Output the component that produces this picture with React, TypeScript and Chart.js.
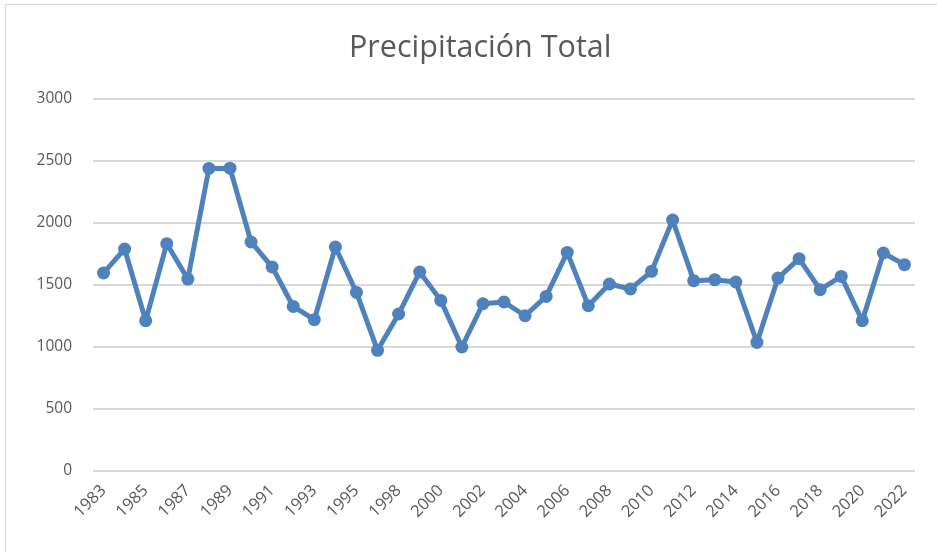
import React, { useEffect, useRef } from "react";
import { Chart, registerables } from "chart.js";

Chart.register(...registerables);

const years: string[] = [
  "1983", "1984", "1985", "1986", "1987", "1988", "1989", "1990", "1991", "1992",
  "1993", "1994", "1995", "1997", "1998", "1999", "2000", "2001", "2002", "2003",
  "2004", "2005", "2006", "2007", "2008", "2009", "2010", "2011", "2012", "2013",
  "2014", "2015", "2016", "2017", "2018", "2019", "2020", "2021", "2022",
];

const precipitation: number[] = [
  1597, 1790, 1212, 1833, 1548, 2440, 2442, 1847, 1645, 1327,
  1220, 1806, 1440, 973, 1266, 1605, 1376, 1000, 1349, 1363,
  1252, 1408, 1763, 1333, 1508, 1468, 1610, 2024, 1535, 1543,
  1524, 1037, 1556, 1712, 1462, 1569, 1212, 1758, 1664,
];

const yTicks: number[] = [0, 500, 1000, 1500, 2000, 2500, 3000];

const TITLE = "Precipitación Total";

const FONT = "'Open Sans', 'Liberation Sans', sans-serif";

const titlePlugin = {
  id: "centeredTitle",
  afterDraw(chart: any) {
    const ctx = chart.ctx;
    ctx.save();
    ctx.font = `normal 30.5px ${FONT}`;
    ctx.fillStyle = "#595959";
    ctx.textAlign = "center";
    ctx.textBaseline = "middle";
    ctx.fillText(TITLE, chart.width * 0.5125, 48);
    ctx.restore();
  },
};

export default function App() {
  const canvasRef = useRef<HTMLCanvasElement | null>(null);

  useEffect(() => {
    if (!canvasRef.current) return;
    const chart = new Chart(canvasRef.current, {
      type: "line",
      data: {
        labels: years,
        datasets: [
          {
            label: "Precipitación Total",
            data: precipitation,
            borderColor: "#4F81BD",
            backgroundColor: "#4F81BD",
            borderWidth: 5,
            borderJoinStyle: "round",
            borderCapStyle: "round",
            pointRadius: 6.5,
            pointHoverRadius: 6.5,
            pointBorderWidth: 0,
            pointBackgroundColor: "#4F81BD",
            pointBorderColor: "#4F81BD",
            tension: 0,
          },
        ],
      },
      options: {
        responsive: false,
        animation: false,
        layout: { padding: { left: 0, right: 22, top: 99, bottom: 0 } },
        plugins: {
          legend: { display: false },
          tooltip: { enabled: false },
          title: { display: false, text: TITLE },
        },
        scales: {
          x: {
            offset: true,
            grid: { display: false, drawTicks: false },
            border: { display: false },
            ticks: {
              autoSkip: false,
              maxRotation: 45,
              minRotation: 45,
              padding: 10,
              color: "#595959",
              font: { family: FONT, size: 16.5 },
              callback: function (_v: any, i: number) {
                return i % 2 === 0 ? years[i] : "";
              },
            },
            afterFit: (s: any) => {
              s.height = 81;
            },
          },
          y: {
            min: 0,
            max: 3000,
            afterBuildTicks: (s: any) => {
              s.ticks = yTicks.map((v) => ({ value: v }));
            },
            grid: { color: "#d9d9d9", lineWidth: 2, drawTicks: false },
            border: { display: false },
            ticks: {
              padding: 21,
              color: "#595959",
              font: { family: FONT, size: 15.5 },
              callback: (v: any) => String(v),
            },
            afterFit: (s: any) => {
              s.width = 93;
            },
          },
        },
      },
      plugins: [titlePlugin],
    });
    return () => chart.destroy();
  }, []);

  return (
    <div style={{ position: "fixed", left: 0, top: 0, width: 937, height: 552, background: "#fff" }}>
      <div
        style={{
          position: "absolute",
          left: 5,
          top: 4,
          width: 940,
          height: 560,
          border: "1px solid #d9d9d9",
        }}
      />
      <canvas ref={canvasRef} width={937} height={552} style={{ position: "absolute", left: 0, top: 0 }} />
    </div>
  );
}
